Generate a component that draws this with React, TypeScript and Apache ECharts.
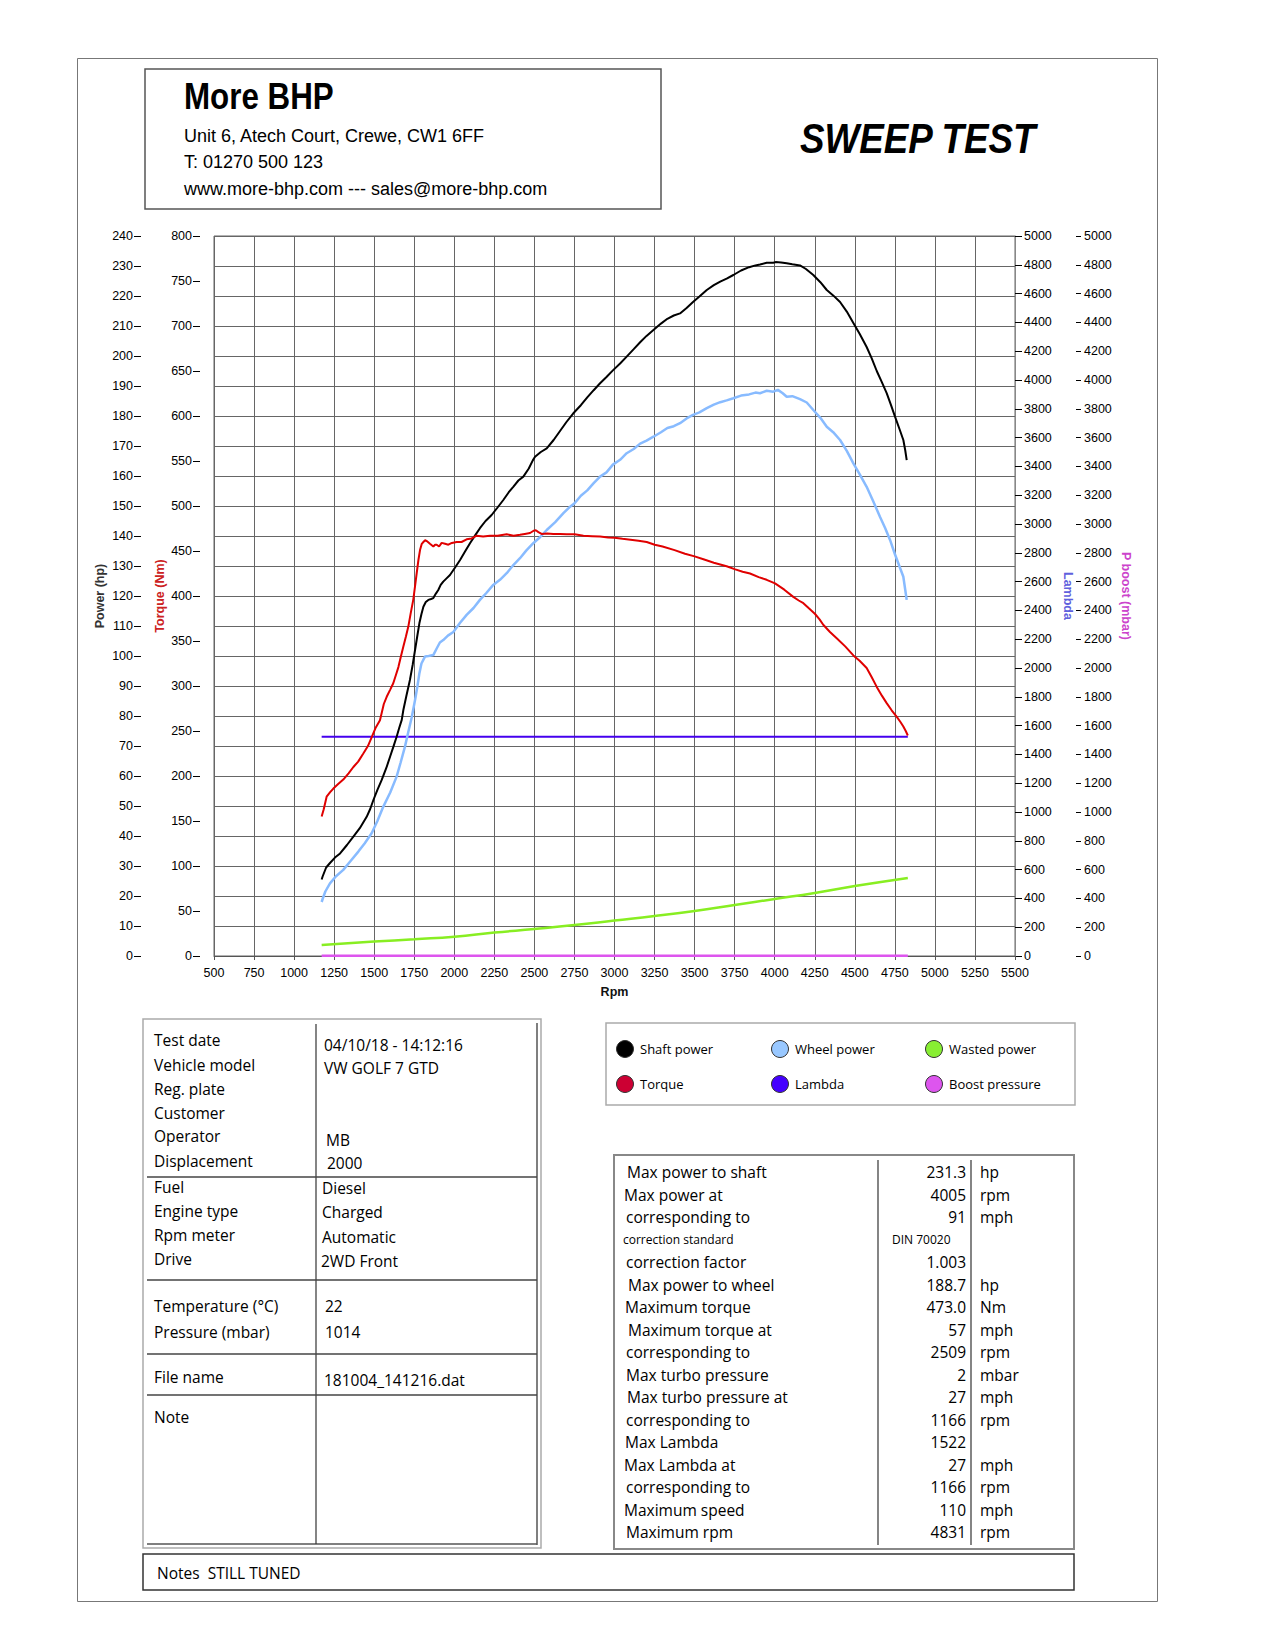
import React, { useEffect, useRef } from "react";
import * as echarts from "echarts";

// ---------------- DATA ----------------
const torqueRpm = [1172, 1185, 1203, 1225, 1245, 1275, 1307, 1340, 1370, 1400, 1432, 1460, 1484, 1510, 1536, 1560, 1578, 1600, 1619, 1635, 1651, 1667, 1682, 1698, 1713, 1728, 1744, 1755, 1765, 1776, 1786, 1797, 1807, 1818, 1828, 1848, 1869, 1880, 1890, 1905, 1921, 1942, 1963, 1985, 2015, 2045, 2077, 2108, 2140, 2180, 2223, 2270, 2327, 2370, 2410, 2440, 2473, 2495, 2509, 2525, 2545, 2580, 2618, 2660, 2701, 2751, 2806, 2860, 2910, 2960, 3001, 3050, 3100, 3150, 3201, 3251, 3300, 3375, 3440, 3500, 3560, 3620, 3700, 3754, 3800, 3846, 3900, 3950, 4002, 4060, 4116, 4150, 4179, 4215, 4252, 4280, 4303, 4345, 4387, 4440, 4491, 4530, 4574, 4605, 4637, 4670, 4699, 4730, 4761, 4785, 4803, 4818, 4831];
const torqueNm = [155, 163, 177, 182, 186, 191, 196, 203, 210, 216, 225, 233, 243, 254, 262, 280, 288, 296, 303, 312, 321, 333, 344, 355, 366, 381, 396, 411, 425, 440, 451, 458, 460, 462, 461, 458, 455, 457, 457, 455, 459, 458, 457, 459, 460, 460, 463, 464, 467, 466, 467, 467, 468.5, 467, 468, 469, 470, 472.5, 473, 471, 469, 469.5, 469, 469, 468.5, 468.5, 467, 466.5, 466, 465, 464.8, 463.5, 462.5, 461.5, 460, 457, 455, 451, 447, 444, 440.5, 437, 433, 429.6, 427, 425, 421, 418, 414, 407, 399, 395, 392, 386, 380, 374, 368, 360, 353, 344, 334, 328, 320, 310, 299, 289, 281, 273, 266, 260, 255, 250, 245];

const shaftRpm = [1172, 1178, 1200, 1224, 1255, 1287, 1330, 1370, 1410, 1453, 1475, 1495, 1520, 1547, 1575, 1599, 1620, 1640, 1656, 1672, 1682, 1700, 1723, 1740, 1755, 1770, 1782, 1795, 1807, 1822, 1838, 1855, 1869, 1885, 1900, 1915, 1931, 1950, 1973, 2005, 2036, 2067, 2098, 2130, 2160, 2195, 2233, 2270, 2306, 2340, 2368, 2400, 2431, 2465, 2490, 2504, 2540, 2577, 2620, 2660, 2700, 2743, 2790, 2830, 2870, 2910, 2950, 2990, 3035, 3076, 3120, 3160, 3200, 3243, 3290, 3330, 3370, 3409, 3450, 3490, 3530, 3576, 3620, 3660, 3700, 3742, 3790, 3840, 3880, 3908, 3950, 3991, 4005, 4040, 4075, 4110, 4158, 4195, 4241, 4285, 4325, 4365, 4408, 4450, 4491, 4530, 4574, 4605, 4637, 4668, 4699, 4725, 4751, 4780, 4803, 4815, 4824];
const shaftHp = [25.5, 26.5, 29.5, 31, 32.8, 34.2, 37, 39.8, 42.6, 46.4, 49, 52, 55.4, 58.7, 62.6, 66.4, 69.8, 73.1, 76, 78.7, 82, 86.5, 92, 97, 102, 107, 110.9, 114, 116.4, 118, 118.7, 119, 119.3, 120.8, 122, 123.7, 124.8, 125.8, 127, 129.5, 132, 134.8, 137.6, 140.2, 142.6, 145, 147, 149.5, 152, 154.6, 156.4, 158.5, 159.8, 162.5, 165.2, 166.4, 168, 169.2, 172, 175, 178, 180.9, 183.6, 186.2, 188.6, 190.9, 193, 195.2, 197.5, 199.8, 202.3, 204.6, 206.7, 208.7, 210.8, 212.4, 213.5, 214.2, 216, 218, 219.8, 222, 223.6, 224.8, 225.8, 227, 228.5, 229.6, 230.2, 230.5, 231.1, 231.1, 231.3, 231.2, 230.9, 230.6, 230.2, 229, 227, 224.6, 222, 220.2, 218, 214.8, 211, 207.4, 203, 199.3, 195, 191.4, 187.6, 183.8, 179.8, 175.5, 172, 168.5, 165.3];

const wheelRpm = [1172, 1178, 1195, 1224, 1260, 1307, 1350, 1401, 1440, 1484, 1520, 1557, 1600, 1640, 1665, 1692, 1712, 1734, 1755, 1770, 1782, 1795, 1817, 1840, 1869, 1890, 1910, 1931, 1960, 1994, 2035, 2077, 2120, 2160, 2200, 2243, 2285, 2327, 2370, 2410, 2450, 2493, 2535, 2577, 2630, 2681, 2715, 2751, 2790, 2830, 2870, 2910, 2950, 2990, 3035, 3076, 3120, 3160, 3200, 3243, 3290, 3330, 3370, 3409, 3450, 3490, 3530, 3576, 3620, 3660, 3700, 3742, 3790, 3840, 3880, 3908, 3950, 3991, 4020, 4050, 4075, 4110, 4158, 4200, 4241, 4285, 4325, 4365, 4408, 4450, 4491, 4530, 4574, 4615, 4657, 4690, 4720, 4750, 4782, 4803, 4815, 4824];
const wheelHp = [18, 19, 21.5, 24.2, 26.5, 28.7, 31.5, 34.8, 37.5, 40.9, 45, 49.8, 54.5, 59.8, 64.5, 69.8, 74.5, 79.5, 85.3, 90, 94.2, 97.5, 99.8, 100, 100.3, 102.5, 104.5, 105.3, 106.8, 108, 111, 113.7, 116, 118.7, 121, 123.7, 125.4, 127.6, 130.4, 132.6, 135.2, 137.6, 139.6, 142, 144.6, 147.6, 149.4, 150.9, 153.4, 155.2, 157.6, 159.8, 161.2, 163.8, 165.4, 167.6, 169, 170.8, 171.8, 173.1, 174.6, 176, 176.6, 177.6, 179.2, 180.4, 181.2, 182.6, 183.8, 184.6, 185.2, 185.9, 186.8, 187.2, 187.8, 187.6, 188.4, 188.1, 188.7, 187.6, 186.4, 186.6, 185.6, 184.5, 182, 179.4, 176.4, 174.6, 172, 168.4, 164.2, 160.6, 156.4, 151.6, 146.4, 142.6, 138.7, 134, 129.4, 126.4, 122, 118.7];

const wastedRpm = [1172, 1500, 1750, 2000, 2250, 2500, 2750, 3000, 3250, 3500, 3750, 4000, 4250, 4500, 4831];
const wastedHp = [3.7, 4.8, 5.6, 6.4, 7.8, 9, 10.3, 11.8, 13.3, 15, 17, 19, 21, 23.3, 26];

const lambdaRpm = [1172, 4831];
const lambdaVal = [1522, 1522];
const boostRpm = [1172, 4831];
const boostMbar = [2, 2];

const infoLabels = ["Test date", "Vehicle model", "Reg. plate", "Customer", "Operator", "Displacement", "Fuel", "Engine type", "Rpm meter", "Drive", "Temperature (°C)", "Pressure (mbar)", "File name", "Note"];
const infoValues = ["04/10/18 - 14:12:16", "VW GOLF 7 GTD", "MB", "2000", "Diesel", "Charged", "Automatic", "2WD Front", "22", "1014", "181004_141216.dat"];

const statLabels = ["Max power to shaft", "Max power at", "corresponding to", "correction standard", "correction factor", "Max power to wheel", "Maximum torque", "Maximum torque at", "corresponding to", "Max turbo pressure", "Max turbo pressure at", "corresponding to", "Max Lambda", "Max Lambda at", "corresponding to", "Maximum speed", "Maximum rpm"];
const statValues = ["231.3", "4005", "91", "DIN 70020", "1.003", "188.7", "473.0", "57", "2509", "2", "27", "1166", "1522", "27", "1166", "110", "4831"];
const statUnits = ["hp", "rpm", "mph", "", "", "hp", "Nm", "mph", "rpm", "mbar", "mph", "rpm", "", "mph", "rpm", "mph", "rpm"];

const legendNames = ["Shaft power", "Wheel power", "Wasted power", "Torque", "Lambda", "Boost pressure"];
const legendColors = ["#000000", "#99c8ff", "#88ee33", "#cc0033", "#4400ff", "#dd55ee"];

// ---------------- LAYOUT ----------------
const infoLabelY = [1040, 1065, 1089, 1113, 1136, 1161, 1187, 1211, 1235, 1259, 1306, 1332, 1377, 1417];
const infoValuePos = [[324, 1045], [324, 1068], [326, 1140], [327, 1163], [322, 1188], [322, 1212], [322, 1237], [321, 1261], [325, 1306], [325, 1332], [324, 1380]];
const statLabelX = [627, 624, 626, 623, 626, 628, 625, 628, 626, 626, 627, 626, 625, 624, 626, 624, 626];

const zip = (a: number[], b: number[]) => a.map((x, i) => [x, b[i]]);

const FONT_T = "'Open Sans', 'Noto Sans', sans-serif";
const FONT_A = "'Liberation Sans', Arial, sans-serif";

function txt(text: string, x: number, y: number, size: number, opts: any = {}) {
  return {
    type: "text",
    x,
    y,
    scaleX: opts.scaleX ?? 1,
    silent: true,
    style: {
      text,
      fontSize: size,
      fontFamily: opts.family ?? FONT_T,
      fontWeight: opts.weight ?? "normal",
      fontStyle: opts.style ?? "normal",
      fill: opts.fill ?? "#000",
      align: opts.align ?? "left",
      verticalAlign: "middle",
    },
  };
}
function rect(x: number, y: number, w: number, h: number, stroke: string, lw: number) {
  return { type: "rect", silent: true, shape: { x, y, width: w, height: h }, style: { fill: "none", stroke, lineWidth: lw } };
}
function line(x1: number, y1: number, x2: number, y2: number, stroke: string, lw: number) {
  return { type: "line", silent: true, shape: { x1, y1, x2, y2 }, style: { stroke, lineWidth: lw } };
}

function buildGraphics() {
  const g: any[] = [];
  // page frame
  g.push(rect(77.5, 58.5, 1080, 1543, "#777", 1));
  // header
  g.push(rect(145, 69, 516, 140, "#555", 1.5));
  g.push(txt("More BHP", 184, 96, 36, { family: FONT_A, weight: "bold", scaleX: 0.87 }));
  g.push(txt("Unit 6, Atech Court, Crewe, CW1 6FF", 184, 136, 18, { family: FONT_A }));
  g.push(txt("T: 01270 500 123", 184, 162, 18, { family: FONT_A }));
  g.push(txt("www.more-bhp.com --- sales@more-bhp.com", 184, 189, 18, { family: FONT_A }));
  g.push(txt("SWEEP TEST", 800, 138, 42, { family: FONT_A, weight: "bold", style: "italic", scaleX: 0.875 }));

  // left info table
  g.push(rect(143, 1019, 398, 529, "#aaa", 1.5));
  g.push(line(537, 1023, 537, 1545, "#555", 1.5));
  g.push(line(147, 1544, 537, 1544, "#555", 1.5));
  g.push(line(316, 1024, 316, 1544, "#333", 1.2));
  [1177, 1280, 1354, 1395].forEach((y) => g.push(line(147, y, 537, y, "#444", 1.5)));
  infoLabels.forEach((t, i) => g.push(txt(t, 154, infoLabelY[i], 15.5)));
  infoValues.forEach((t, i) => g.push(txt(t, infoValuePos[i][0], infoValuePos[i][1], 15.5)));

  // legend box
  g.push(rect(606, 1023, 469, 82, "#aaa", 1.5));
  const lx = [625, 780, 934];
  const ly = [1049, 1084];
  legendNames.forEach((n, i) => {
    const cx = lx[i % 3];
    const cy = ly[Math.floor(i / 3)];
    g.push({ type: "circle", silent: true, shape: { cx, cy, r: 8.5 }, style: { fill: legendColors[i], stroke: "#333", lineWidth: 1 } });
    g.push(txt(n, cx + 15, cy, 13));
  });

  // stats table
  g.push(rect(614, 1155, 460, 394, "#888", 2));
  g.push(line(878, 1160, 878, 1545, "#333", 1.2));
  g.push(line(971, 1160, 971, 1545, "#333", 1.2));
  statLabels.forEach((t, i) => {
    const y = 1172 + i * 22.5;
    const small = i === 3;
    g.push(txt(t, statLabelX[i], y, small ? 12 : 15.5));
    if (small) g.push(txt(statValues[i], 892, y, 12));
    else g.push(txt(statValues[i], 966, y, 15.5, { align: "right" }));
    if (statUnits[i]) g.push(txt(statUnits[i], 980, y, 15.5));
  });

  // notes box
  g.push(rect(143, 1554, 931, 36, "#333", 1.5));
  g.push(txt("Notes  STILL TUNED", 157, 1573, 15.5));
  return g;
}

export default function App() {
  const ref = useRef<HTMLDivElement>(null);
  useEffect(() => {
    if (!ref.current) return;
    const chart = echarts.init(ref.current, undefined, { renderer: "svg" });
    const plain = (v: number) => String(v);
    const axisLabel = { color: "#000", fontSize: 12.5, fontFamily: FONT_A, formatter: plain };
    const nameStyle = (color: string) => ({ color, fontWeight: "bold", fontSize: 12.5, fontFamily: FONT_A });
    const option: any = {
      animation: false,
      backgroundColor: "#fff",
      textStyle: { fontFamily: FONT_A },
      grid: { left: 214, top: 236, width: 801, height: 720, show: true, borderColor: "#666", borderWidth: 1, containLabel: false },
      xAxis: {
        type: "value",
        min: 500,
        max: 5500,
        interval: 250,
        name: "Rpm",
        nameLocation: "middle",
        nameGap: 29,
        nameMoveOverlap: false,
        nameTextStyle: nameStyle("#111"),
        axisLine: { show: true, lineStyle: { color: "#555" } },
        axisTick: { show: true, length: 4, lineStyle: { color: "#555" } },
        axisLabel: { ...axisLabel, margin: 10 },
        splitLine: { show: true, lineStyle: { color: "#666", width: 1 } },
      },
      yAxis: [
        {
          type: "value", min: 0, max: 240, interval: 10, position: "left", offset: 73,
          name: "Power (hp)", nameLocation: "middle", nameRotate: 90, nameGap: 35, nameMoveOverlap: false, nameTextStyle: nameStyle("#333"),
          axisLine: { show: false }, axisTick: { show: true, length: 7, lineStyle: { color: "#000" } },
          axisLabel: { ...axisLabel, margin: 8 },
          splitLine: { show: true, lineStyle: { color: "#666", width: 1 } },
        },
        {
          type: "value", min: 0, max: 800, interval: 50, position: "left", offset: 14,
          name: "Torque (Nm)", nameLocation: "middle", nameRotate: 90, nameGap: 34, nameMoveOverlap: false, nameTextStyle: nameStyle("#cc2222"),
          axisLine: { show: false }, axisTick: { show: true, length: 7, lineStyle: { color: "#000" } },
          axisLabel: { ...axisLabel, margin: 8 },
          splitLine: { show: false },
        },
        {
          type: "value", min: 0, max: 5000, interval: 200, position: "right", offset: 0,
          name: "Lambda", nameLocation: "middle", nameRotate: -90, nameGap: 46, nameMoveOverlap: false, nameTextStyle: nameStyle("#6060dd"),
          axisLine: { show: true, lineStyle: { color: "#888" } }, axisTick: { show: true, length: 7, lineStyle: { color: "#000" } },
          axisLabel: { ...axisLabel, margin: 9 },
          splitLine: { show: false },
        },
        {
          type: "value", min: 0, max: 5000, interval: 200, position: "right", offset: 61,
          name: "P boost (mbar)", nameLocation: "middle", nameRotate: -90, nameGap: 43, nameMoveOverlap: false, nameTextStyle: nameStyle("#cc44cc"),
          axisLine: { show: false }, axisTick: { show: true, length: 5, lineStyle: { color: "#000" } },
          axisLabel: { ...axisLabel, margin: 8 },
          splitLine: { show: false },
        },
      ],
      series: [
        { name: "Boost pressure", type: "line", yAxisIndex: 3, data: zip(boostRpm, boostMbar), showSymbol: false, lineStyle: { color: "#dd55ee", width: 2.5 } },
        { name: "Wasted power", type: "line", yAxisIndex: 0, data: zip(wastedRpm, wastedHp), showSymbol: false, smooth: true, lineStyle: { color: "#88ee22", width: 2.5 } },
        { name: "Lambda", type: "line", yAxisIndex: 2, data: zip(lambdaRpm, lambdaVal), showSymbol: false, lineStyle: { color: "#4400ee", width: 2 } },
        { name: "Wheel power", type: "line", yAxisIndex: 0, data: zip(wheelRpm, wheelHp), showSymbol: false, lineStyle: { color: "#88bbff", width: 2.5 } },
        { name: "Shaft power", type: "line", yAxisIndex: 0, data: zip(shaftRpm, shaftHp), showSymbol: false, lineStyle: { color: "#000", width: 2 } },
        { name: "Torque", type: "line", yAxisIndex: 1, data: zip(torqueRpm, torqueNm), showSymbol: false, lineStyle: { color: "#e00000", width: 2 } },
      ],
      graphic: buildGraphics(),
    };
    chart.setOption(option);
    return () => chart.dispose();
  }, []);
  return <div ref={ref} style={{ position: "absolute", left: 0, top: 0, width: 1275, height: 1650, background: "#fff" }} />;
}
